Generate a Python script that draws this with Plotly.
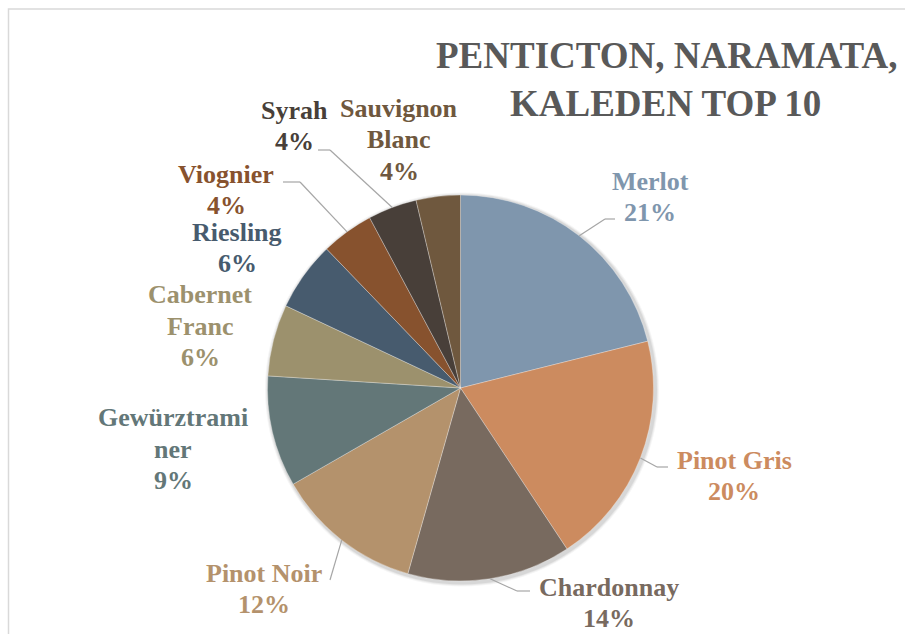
import plotly.graph_objects as go
import math

# ---------------- data ----------------
varieties = ["Merlot", "Pinot Gris", "Chardonnay", "Pinot Noir", "Gewürztraminer",
             "Cabernet Franc", "Riesling", "Viognier", "Syrah", "Sauvignon Blanc"]
shares = [21.1, 19.6, 13.7, 12.3, 9.3, 6.0, 5.8, 4.4, 4.1, 3.7]
title_lines = ["PENTICTON, NARAMATA,", "KALEDEN TOP 10"]

# ---------------- style ----------------
colors = ["#7F96AD", "#CC8B5F", "#786A5F", "#B4926C", "#637778",
          "#9C916D", "#475B6E", "#87522E", "#483F39", "#6F583E"]
W, H = 905, 634
CX, CY, R = 460.5, 388, 193
FONT = "Liberation Serif"
LABEL_SIZE = 26
LINE_PITCH = 31.5
label_wrap = {"Gewürztraminer": ["Gewürztrami", "ner"], "Cabernet Franc": ["Cabernet", "Franc"],
              "Sauvignon Blanc": ["Sauvignon", "Blanc"]}
label_pos = {  # pixel centre of each label block
    "Merlot": (650, 197), "Pinot Gris": (734, 476), "Chardonnay": (609, 603),
    "Pinot Noir": (264, 589), "Gewürztraminer": (173, 449), "Cabernet Franc": (200, 326),
    "Riesling": (237, 248), "Viognier": (226, 190), "Syrah": (294, 126),
    "Sauvignon Blanc": (399, 140),
}
leaders = {  # elbow / end points of leader lines (pixels)
    "Merlot": [(605, 219), (615, 219)],
    "Pinot Gris": [(657, 467), (668, 467)],
    "Chardonnay": [(517, 591), (530, 591)],
    "Pinot Noir": [(330, 580)],
    "Viognier": [(300, 182), (283, 182)],
    "Syrah": [(330, 150), (318, 150)],
}


def px(x):
    return x / W


def py(y):
    return 1 - y / H


fig = go.Figure()
fig.add_trace(go.Pie(
    labels=varieties, values=shares, sort=False, direction="clockwise", rotation=0,
    marker=dict(colors=colors, line=dict(color="rgba(255,255,255,0.6)", width=0.5)),
    textinfo="none", showlegend=False,
    domain=dict(x=[px(CX - R), px(CX + R)], y=[py(CY + R), py(CY - R)]),
))

shapes = []
# frame
shapes.append(dict(type="rect", xref="paper", yref="paper", x0=px(8.5), y0=py(9), x1=px(960), y1=py(700),
                   line=dict(color="#D9D9D9", width=1.5), fillcolor="rgba(0,0,0,0)", layer="below"))
# soft shadow
for k, a in [(4, 0.04), (3, 0.05), (2, 0.07)]:
    shapes.append(dict(type="circle", xref="paper", yref="paper",
                       x0=px(CX - R - k + 1.5), x1=px(CX + R + k + 1.5),
                       y0=py(CY + R + k + 1.5), y1=py(CY - R - k + 1.5),
                       line=dict(width=0), fillcolor=f"rgba(0,0,0,{a})", layer="below"))

annotations = []
total = sum(shares)
cum = 0.0
for name, v, c in zip(varieties, shares, colors):
    mid = (cum + v / 2) / total * 2 * math.pi
    cum += v
    ex, ey = CX + R * math.sin(mid), CY - R * math.cos(mid)
    if name in leaders:
        pts = [(ex, ey)] + leaders[name]
        for (x0, y0), (x1, y1) in zip(pts[:-1], pts[1:]):
            shapes.append(dict(type="line", xref="paper", yref="paper",
                               x0=px(x0), y0=py(y0), x1=px(x1), y1=py(y1),
                               line=dict(color="#A6A6A6", width=1.2)))
    pct = round(v / total * 100)
    lines = label_wrap.get(name, [name]) + [f"{pct}%"]
    lx, ly = label_pos[name]
    n = len(lines)
    for i, t in enumerate(lines):
        annotations.append(dict(
            text=f"<b>{t}</b>", x=px(lx), y=py(ly + (i - (n - 1) / 2) * LINE_PITCH),
            xref="paper", yref="paper", xanchor="center", yanchor="middle", showarrow=False,
            font=dict(family=FONT, size=LABEL_SIZE, color=c),
        ))

for line, (tx, ty) in zip(title_lines, [(667, 55), (665, 104)]):
    annotations.append(dict(
        text=f"<b>{line}</b>", x=px(tx), y=py(ty), xref="paper", yref="paper",
        xanchor="center", yanchor="middle", showarrow=False,
        font=dict(family=FONT, size=37, color="#595959"),
    ))

fig.update_layout(
    width=W, height=H, margin=dict(l=0, r=0, t=0, b=0),
    paper_bgcolor="white", plot_bgcolor="white",
    shapes=shapes, annotations=annotations,
)
fig.write_html("out.html")
